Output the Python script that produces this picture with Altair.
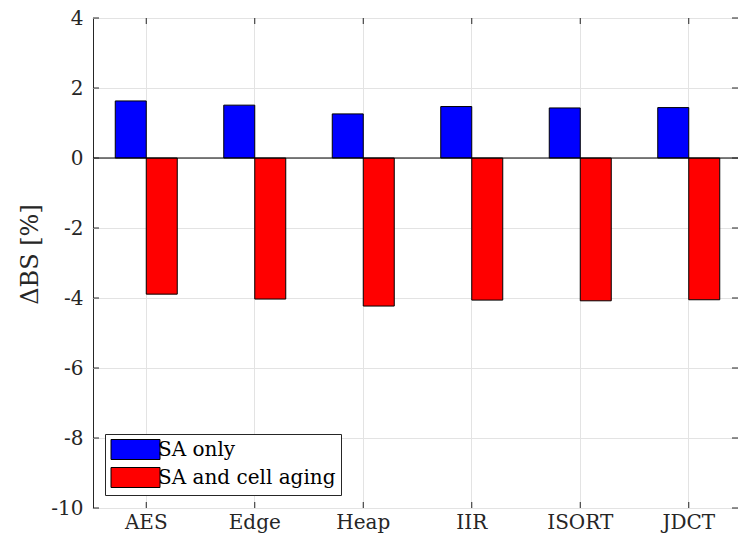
import altair as alt
import pandas as pd

categories = ["AES", "Edge", "Heap", "IIR", "ISORT", "JDCT"]
series = ["SA only", "SA and cell aging"]
sa_only = [1.63, 1.51, 1.26, 1.47, 1.43, 1.44]
sa_aging = [-3.89, -4.03, -4.23, -4.06, -4.08, -4.05]
y_ticks = [-10, -8, -6, -4, -2, 0, 2, 4]
colors = ["#0000ff", "#ff0000"]

rows = []
for c, a, b in zip(categories, sa_only, sa_aging):
    rows.append({"cat": c, "series": series[0], "value": a})
    rows.append({"cat": c, "series": series[1], "value": b})
df = pd.DataFrame(rows)
ytick_df = pd.DataFrame({"value": y_ticks})
cat_df = pd.DataFrame({"cat": categories})
zero_df = pd.DataFrame({"value": [0]})

W, H = 645, 490
FONT = "DejaVu Serif"
AX = "#262626"

xscale = alt.Scale(domain=categories, range=[-1, 650], paddingInner=0, paddingOuter=0)
yscale = alt.Scale(domain=[-10, 4], nice=False, zero=False)

xaxis = alt.Axis(title=None, labelAngle=0, ticks=False, domain=False, grid=True,
                 bandPosition=0.5, gridColor="#e3e3e3", labelFont=FONT,
                 labelFontSize=20, labelColor=AX, labelPadding=4)
yaxis = alt.Axis(values=y_ticks, title="ΔBS [%]", ticks=False, domain=False,
                 grid=True, gridColor="#e3e3e3", labelFont=FONT,
                 labelFontSize=20, labelColor=AX, labelPadding=10,
                 labelExpr="'' + datum.value",
                 titleFont=FONT, titleFontSize=24, titleFontWeight="normal",
                 titleColor=AX, titleAngle=-90, titleX=-63, titleY=236,
                 titleAlign="center", titleBaseline="middle")

X = alt.X("cat:N", scale=xscale, sort=categories, axis=xaxis, title=None)
Y = alt.Y("value:Q", scale=yscale, axis=yaxis, title="ΔBS [%]")

bars = alt.Chart(df).mark_bar(stroke="black", strokeWidth=1).encode(
    x=X,
    xOffset=alt.XOffset("series:N", sort=series,
                        scale=alt.Scale(paddingOuter=0.75, paddingInner=0)),
    y=Y,
    color=alt.Color("series:N", sort=series, scale=alt.Scale(domain=series, range=colors),
                    legend=alt.Legend(title=None, orient="none", legendX=12, legendY=416,
                                      symbolType="M-2.45,-1H2.45V1H-2.45Z",
                                      symbolSize=400, symbolOffset=15,
                                      symbolStrokeColor="black", symbolStrokeWidth=1,
                                      labelOffset=12, labelLimit=400, labelFont=FONT,
                                      labelFontSize=20, labelColor="black", rowPadding=3,
                                      padding=5, strokeColor=AX, fillColor="white")),
)

zero = alt.Chart(zero_df).mark_rule(color="black", strokeWidth=1).encode(y=Y)

lt = alt.Chart(ytick_df).mark_rule(color=AX).encode(y=Y, x=alt.value(0), x2=alt.value(6))
rt = alt.Chart(ytick_df).mark_rule(color=AX).encode(y=Y, x=alt.value(W - 6), x2=alt.value(W))
bt = alt.Chart(cat_df).mark_rule(color=AX).encode(x=X, y=alt.value(H - 6), y2=alt.value(H))
tt = alt.Chart(cat_df).mark_rule(color=AX).encode(x=X, y=alt.value(0), y2=alt.value(6))

chart = alt.layer(bars, zero, lt, rt, bt, tt).properties(
    width=W, height=H,
    autosize=alt.AutoSizeParams(type="none"),
    padding={"left": 93, "top": 18, "right": 0, "bottom": 38},
    background="white",
).configure_view(stroke=AX, strokeWidth=1)

chart.save("out.html", embed_options={"renderer": "svg", "actions": False})
